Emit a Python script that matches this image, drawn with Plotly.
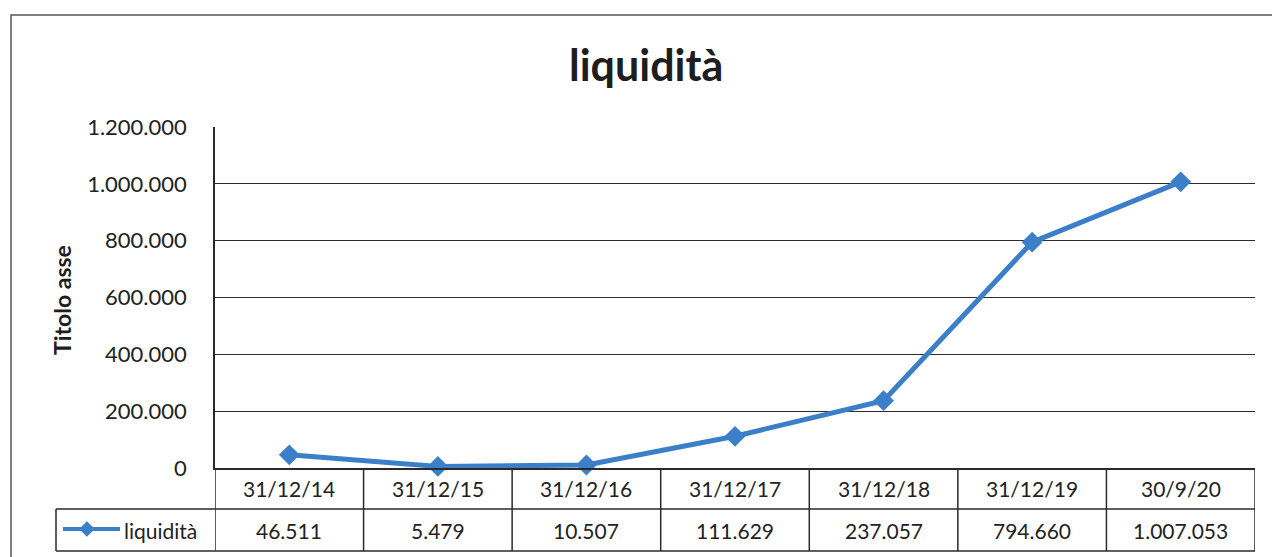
import plotly.graph_objects as go

# ---- data ----
categories = ["31/12/14", "31/12/15", "31/12/16", "31/12/17", "31/12/18", "31/12/19", "30/9/20"]
liquidita = [46511, 5479, 10507, 111629, 237057, 794660, 1007053]
value_labels = ["46.511", "5.479", "10.507", "111.629", "237.057", "794.660", "1.007.053"]
series_name = "liquidità"
chart_title = "liquidità"
y_title = "Titolo asse"

W, H = 1272, 557
FONT = "Lato"
BLUE = "#3a7fc8"
GRID = "#2c2c2c"
BORDER = "#2a2a2a"

# pixel layout helpers (figure has zero margins, so paper == figure)
def px(x):
    return x / W

def py(y):
    return 1 - y / H

plot_l, plot_r, plot_t, plot_b = 215, 1255, 127, 468
row1_b, row2_b = 509, 551
legend_cell_l = 56

x_idx = list(range(len(categories)))

fig = go.Figure()

fig.add_trace(go.Scatter(
    x=x_idx, y=liquidita, mode="lines+markers", name=series_name,
    line=dict(color=BLUE, width=5),
    marker=dict(symbol="diamond", size=16, color=BLUE),
    hoverinfo="skip", showlegend=False, cliponaxis=False,
))

# legend key inside the data table
fig.add_trace(go.Scatter(
    x=[0, 1], y=[0.5, 0.5], mode="lines", xaxis="x2", yaxis="y2",
    line=dict(color=BLUE, width=4), hoverinfo="skip", showlegend=False,
))
fig.add_trace(go.Scatter(
    x=[0.42], y=[0.5], mode="markers", xaxis="x2", yaxis="y2",
    marker=dict(symbol="diamond", size=12, color=BLUE), hoverinfo="skip", showlegend=False,
))

shapes = []
# outer chart frame (right/bottom edges fall outside the photo)
shapes.append(dict(type="rect", xref="paper", yref="paper",
                   x0=px(11), x1=px(W + 20), y0=py(H + 20), y1=py(15),
                   line=dict(color="#555555", width=1.5)))
# data table horizontal lines
for yy in (row1_b, row2_b):
    shapes.append(dict(type="line", xref="paper", yref="paper",
                       x0=px(legend_cell_l), x1=px(plot_r), y0=py(yy), y1=py(yy),
                       line=dict(color=BORDER, width=1.5)))
# legend cell left border
shapes.append(dict(type="line", xref="paper", yref="paper",
                   x0=px(legend_cell_l), x1=px(legend_cell_l), y0=py(row1_b), y1=py(row2_b),
                   line=dict(color=BORDER, width=1.5)))
# column borders
for k in range(len(categories) + 1):
    shapes.append(dict(type="line", xref="x", yref="paper",
                       x0=k - 0.5, x1=k - 0.5, y0=py(plot_b), y1=py(row2_b),
                       line=dict(color=BORDER, width=1.5)))

annotations = []
annotations.append(dict(text=f"<b>{chart_title}</b>", xref="paper", yref="paper",
                        x=px(646), y=py(64), xanchor="center", yanchor="middle",
                        showarrow=False, font=dict(family=FONT, size=43, color="#1e1e1e")))
annotations.append(dict(text=f"<b>{y_title}</b>", xref="paper", yref="paper",
                        x=px(62), y=py(300), xanchor="center", yanchor="middle",
                        textangle=-90, showarrow=False,
                        font=dict(family=FONT, size=23, color="#1e1e1e")))
for i, (c, v) in enumerate(zip(categories, value_labels)):
    annotations.append(dict(text=c, xref="x", yref="paper", x=i, y=py((plot_b + row1_b) / 2),
                            xanchor="center", yanchor="middle", showarrow=False,
                            font=dict(family=FONT, size=21, color="#222222")))
    annotations.append(dict(text=v, xref="x", yref="paper", x=i, y=py((row1_b + row2_b) / 2),
                            xanchor="center", yanchor="middle", showarrow=False,
                            font=dict(family=FONT, size=21, color="#222222")))
annotations.append(dict(text=series_name, xref="paper", yref="paper",
                        x=px(122), y=py((row1_b + row2_b) / 2), xanchor="left", yanchor="middle",
                        showarrow=False, font=dict(family=FONT, size=21, color="#222222")))

fig.update_layout(
    width=W, height=H,
    autosize=False,
    margin=dict(l=0, r=0, t=0, b=0, pad=0, autoexpand=False),
    paper_bgcolor="white", plot_bgcolor="white",
    separators=",.",
    showlegend=False,
    font=dict(family=FONT, size=22, color="#222222"),
    xaxis=dict(domain=[px(plot_l), px(plot_r)], range=[-0.5, len(categories) - 0.5],
               showticklabels=False, showgrid=False, zeroline=False, automargin=False,
               showline=True, linecolor=BORDER, linewidth=1.5, fixedrange=True),
    yaxis=dict(domain=[py(plot_b), py(plot_t)], range=[0, 1200000], dtick=200000,
               tickformat=",d", showgrid=True, gridcolor=GRID, gridwidth=1.3,
               zeroline=False, showline=True, linecolor=BORDER, linewidth=1.5,
               ticks="outside", ticklen=22, tickcolor="rgba(0,0,0,0)", automargin=False,
               tickfont=dict(family=FONT, size=22, color="#222222"), fixedrange=True),
    xaxis2=dict(domain=[px(63), px(120)], range=[0, 1], visible=False, anchor="y2",
                fixedrange=True, automargin=False),
    yaxis2=dict(domain=[py(539), py(519)], range=[0, 1], visible=False, anchor="x2",
                fixedrange=True, automargin=False),
    shapes=shapes,
    annotations=annotations,
)

fig.write_html("out.html", config={"displayModeBar": False},
               post_script="document.body.style.margin='0';")
